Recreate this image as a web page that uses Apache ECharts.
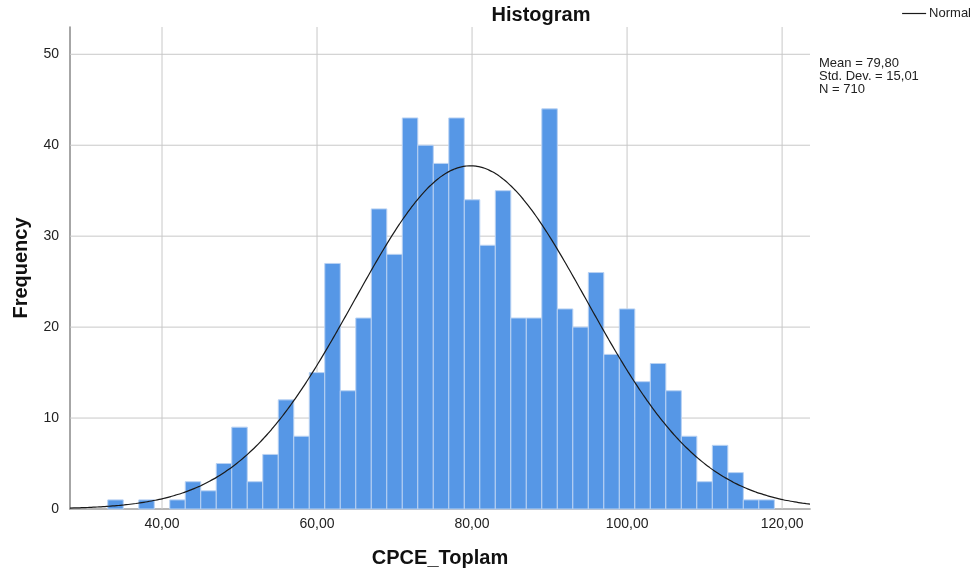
<!DOCTYPE html>
<html><head><meta charset="utf-8">
<script src="https://cdn.jsdelivr.net/npm/echarts@6/dist/echarts.min.js"></script>
<style>html,body{margin:0;padding:0;background:#fff}#c{width:979px;height:576px}</style>
</head><body><div id="c"></div>
<script>
// Histogram bins (bin centre, width 2)
const binCenters = [34,36,38,40,42,44,46,48,50,52,54,56,58,60,62,64,66,68,70,72,74,76,78,80,82,84,86,88,90,92,94,96,98,100,102,104,106,108,110,112,114,116,118];
const frequencies = [1,0,1,0,1,3,2,5,9,3,6,12,8,15,27,13,21,33,28,43,40,38,43,34,29,35,21,21,44,22,20,26,17,22,14,16,13,8,3,7,4,1,1];
const binWidth = 2;
const xTicks = [40,60,80,100,120];
const yTicks = [0,10,20,30,40,50];
const meanVal = 79.80, sdVal = 15.01, nVal = 710;
const statLines = ['Mean = 79,80','Std. Dev. = 15,01','N = 710'];

const xMin = 28.13, xMax = 123.6;
const barData = binCenters.map((c,i)=>[c-binWidth/2, c+binWidth/2, frequencies[i]]).filter(d=>d[2]>0);
// fitted normal curve from the stats shown
const normPdf = x => nVal*binWidth/(sdVal*Math.sqrt(2*Math.PI))*Math.exp(-0.5*Math.pow((x-meanVal)/sdVal,2));
const curve = [];
for (let x = xMin; x < xMax; x += 0.5) curve.push([x, normPdf(x)]);
curve.push([xMax, normPdf(xMax)]);

const font = 'Liberation Sans, Arial, sans-serif';
const chart = echarts.init(document.getElementById('c'));
chart.setOption({
  animation:false,
  title:{text:'Histogram', left:536, top:0, textAlign:'center', textStyle:{fontFamily:font,fontSize:20,fontWeight:'bold',color:'#111'}},
  legend:{right:3, top:2, itemWidth:24, itemHeight:10, itemGap:4,
    data:[{name:'Normal', icon:'path://M0,4.4 L24,4.4 L24,5.6 L0,5.6 Z'}],
    textStyle:{fontFamily:font,fontSize:13,color:'#222',padding:[0,0,0,-2]}},
  grid:{left:70, right:169, top:27, bottom:67},
  xAxis:{type:'value', min:xMin, max:xMax,
    name:'CPCE_Toplam', nameLocation:'middle', nameGap:39,
    nameTextStyle:{fontFamily:font,fontSize:20,fontWeight:'bold',color:'#111'},
    axisLine:{show:true,onZero:false,lineStyle:{color:'#888',width:1.5}},
    axisTick:{show:false, customValues:xTicks},
    axisLabel:{customValues:xTicks, fontFamily:font,fontSize:14,color:'#222',margin:8,
      formatter:v=>v.toFixed(2).replace('.',',')},
    splitLine:{show:false}},
  yAxis:{type:'value', min:0, max:53,
    name:'Frequency', nameLocation:'middle', nameGap:39, nameRotate:90,
    nameTextStyle:{fontFamily:font,fontSize:20,fontWeight:'bold',color:'#111'},
    axisLine:{show:true,lineStyle:{color:'#888',width:1.5}},
    axisTick:{show:false, customValues:yTicks},
    axisLabel:{customValues:yTicks, fontFamily:font,fontSize:14,color:'#222',margin:11},
    splitLine:{show:false}},
  graphic:[{type:'text', left:819, top:57, style:{text:statLines.join('\n'), font:'13px '+font, fill:'#222', lineHeight:12.8}}],
  series:[
    {type:'custom', name:'vgrid', data:xTicks.map(v=>[v]), z:1, silent:true,
      renderItem:(params, api)=>{
        const p = api.coord([api.value(0), 0]);
        return {type:'line', shape:{x1:p[0], y1:params.coordSys.y, x2:p[0], y2:p[1]},
          style:{stroke:'#c8c8c8', lineWidth:1}};
      }},
    {type:'custom', name:'hgrid', data:yTicks.map(v=>[v]), z:1, silent:true,
      renderItem:(params, api)=>{
        const y = api.coord([xMin, api.value(0)])[1];
        return {type:'line', shape:{x1:params.coordSys.x, y1:y, x2:params.coordSys.x+params.coordSys.width, y2:y},
          style:{stroke:'#c8c8c8', lineWidth:1}};
      }},
    {type:'custom', name:'bars', data:barData, z:3,
      renderItem:(params, api)=>{
        const p0 = api.coord([api.value(0), api.value(2)]);
        const p1 = api.coord([api.value(1), 0]);
        return {type:'rect', shape:{x:p0[0], y:p0[1], width:p1[0]-p0[0], height:p1[1]-p0[1]},
          style:{fill:'#5697e6', stroke:'#b9d2f3', lineWidth:1}};
      }},
    {type:'line', name:'Normal', data:curve, showSymbol:false, smooth:true, z:5,
      lineStyle:{color:'#1a1a1a', width:1.2}, itemStyle:{color:'#1a1a1a'}}
  ]
});
</script></body></html>
